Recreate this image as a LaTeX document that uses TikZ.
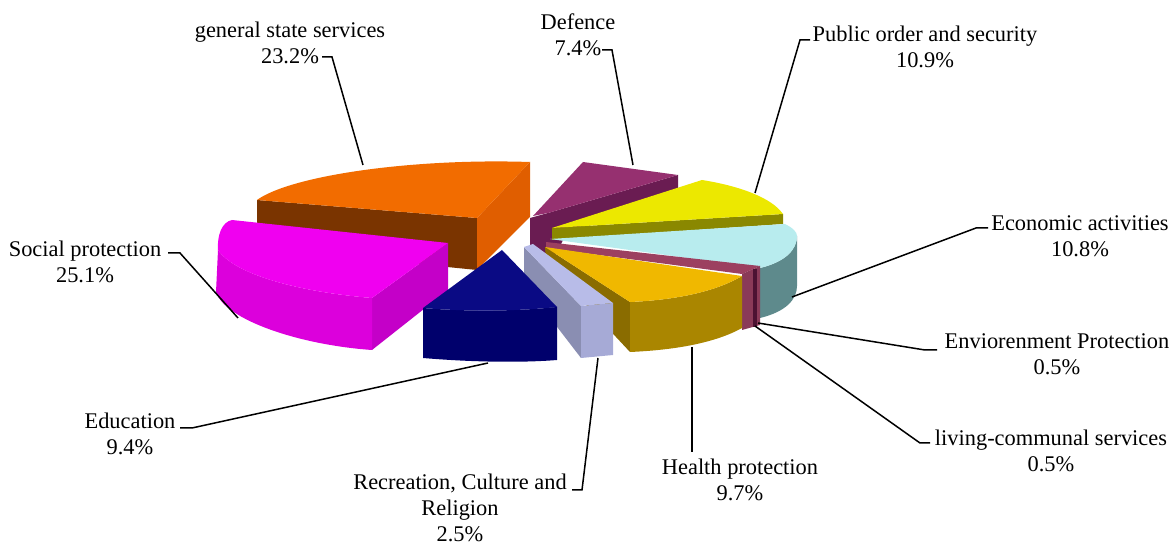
\documentclass[tikz,border=0pt]{standalone}
\usepackage{fontspec}
\setmainfont{Liberation Serif}
\usepackage{tikz}
\usetikzlibrary{positioning}

\definecolor{gssTop}{HTML}{F26C00}
\definecolor{gssSide}{HTML}{E05E00}
\definecolor{gssDark}{HTML}{7A3400}
\definecolor{socTop}{HTML}{F000F0}
\definecolor{socFront}{HTML}{DC00DC}
\definecolor{socSide}{HTML}{C400C8}
\definecolor{eduTop}{HTML}{0A0A84}
\definecolor{eduFront}{HTML}{00006C}
\definecolor{rcrTop}{HTML}{B8BCE8}
\definecolor{rcrFront}{HTML}{A6AAD6}
\definecolor{rcrSide}{HTML}{8A8EB2}
\definecolor{defTop}{HTML}{963070}
\definecolor{defSide}{HTML}{6A1C52}
\definecolor{posTop}{HTML}{ECE800}
\definecolor{posSide}{HTML}{8A8800}
\definecolor{ecoTop}{HTML}{B8ECEE}
\definecolor{ecoSide}{HTML}{5E8A8C}
\definecolor{envTop}{HTML}{9C4060}
\definecolor{envFront}{HTML}{8A3A58}
\definecolor{livFront}{HTML}{4C1232}
\definecolor{hpTop}{HTML}{F0B800}
\definecolor{hpFront}{HTML}{AA8600}
\definecolor{hpSide}{HTML}{8A6C00}

\begin{document}
\begin{tikzpicture}[x=0.5pt,y=-0.5pt]
\tikzset{lbl/.style={align=center,inner sep=0pt,font=\fontsize{11.2}{13}\selectfont},
  leader/.style={black,line width=0.75pt}}
\useasboundingbox (0,0) rectangle (1175,545);

% general state services
\fill[gssDark] (257,200) -- (477,218) -- (477,270) -- (257,248) -- cycle;
\fill[gssSide] (477,218) -- (530,162) -- (530,217) -- (477,270) -- cycle;
\fill[gssTop] (257,200) .. controls (290,176) and (410,158) .. (530,162) -- (477,218) -- cycle;
% social protection
\fill[socSide] (448,243) -- (372,298) -- (372,350) -- (448,290) -- cycle;
\fill[socFront] (372,298) .. controls (300,292) and (235,275) .. (218,250) -- (216,292)
  .. controls (225,320) and (300,345) .. (372,350) -- cycle;
\fill[socTop] (232,220) -- (448,243) -- (372,298) .. controls (300,292) and (235,275) .. (218,250)
  .. controls (217,235) and (222,222) .. (232,220) -- cycle;
% main pie
\fill[defSide] (530,218) -- (548,213) -- (678,175) -- (678,188) -- (565,236) -- (552,262) -- (530,253) -- cycle;
\fill[defTop] (583,162) -- (678,175) -- (548,213) -- (533,216) -- cycle;
\fill[posSide] (552,228) -- (783,214) -- (783,224) -- (552,240) -- cycle;
\fill[posTop] (552,228) -- (702,180) .. controls (740,186) and (772,198) .. (783,214) -- cycle;
\fill[ecoSide] (797,236) .. controls (797,250) and (785,262) .. (760,268) -- (760,318)
  .. controls (785,312) and (797,300) .. (797,286) -- cycle;
\fill[ecoTop] (550,239) -- (785,224) .. controls (793,228) and (797,232) .. (797,236)
  .. controls (797,250) and (785,262) .. (760,268) -- cycle;
\fill[envTop] (546,242) -- (760,266) -- (742,274) -- (546,248) -- cycle;
\fill[envFront] (742,274) -- (760,266) -- (760,325) -- (742,330) -- cycle;
\fill[livFront] (753,269) rectangle (757,327);
\fill[hpSide] (545,247) -- (630,302) -- (630,352) -- (546,262) -- cycle;
\fill[hpFront] (630,302) .. controls (675,300) and (715,292) .. (742,276) -- (742,328)
  .. controls (715,343) and (675,350) .. (630,352) -- cycle;
\fill[hpTop] (545,247) -- (742,276) .. controls (715,292) and (675,300) .. (630,302) -- cycle;
% recreation
\fill[rcrSide] (524,247) -- (581,306) -- (581,358) -- (524,284) -- cycle;
\fill[rcrFront] (581,306) -- (613,303) -- (613,355) -- (581,358) -- cycle;
\fill[rcrTop] (524,247) -- (533,244) -- (613,303) -- (581,306) -- cycle;
% education
\fill[eduFront] (423,308) .. controls (470,312) and (520,311) .. (557,307) -- (557,360)
  .. controls (520,363) and (470,362) .. (423,358) -- cycle;
\fill[eduTop] (502,250) -- (557,307) .. controls (520,311) and (470,312) .. (423,308) -- cycle;

% labels
\node[lbl] (gss) at (290,43) {general state services\\23.2\%};
\node[lbl] (def) at (578,35) {Defence\\7.4\%};
\node[lbl] (pos) at (925,47) {Public order and security\\10.9\%};
\node[lbl] (eco) at (1080,236) {Economic activities\\10.8\%};
\node[lbl] (env) at (1057,354) {Enviorenment Protection\\0.5\%};
\node[lbl] (liv) at (1051,451) {living-communal services\\0.5\%};
\node[lbl] (hp) at (740,480) {Health protection\\9.7\%};
\node[lbl] (rcr) at (460,508) {Recreation, Culture and\\Religion\\2.5\%};
\node[lbl] (edu) at (130,434) {Education\\9.4\%};
\node[lbl] (soc) at (85,262) {Social protection\\25.1\%};

% leader ends
\coordinate (gss-p) at (363,165); \coordinate (gss-k) at (332,57);
\coordinate (def-p) at (633,165); \coordinate (def-k) at (612,50);
\coordinate (pos-p) at (755,193); \coordinate (pos-k) at (800,40);
\coordinate (eco-p) at (792,297); \coordinate (eco-k) at (976,228);
\coordinate (env-p) at (758,323); \coordinate (env-k) at (925,350);
\coordinate (liv-p) at (755,326); \coordinate (liv-k) at (920,443);
\coordinate (hp-p) at (692,347); \coordinate (hp-k) at (692,452);
\coordinate (rcr-p) at (598,358); \coordinate (rcr-k) at (582,490);
\coordinate (edu-p) at (488,363); \coordinate (edu-k) at (192,428);
\coordinate (soc-p) at (238,318); \coordinate (soc-k) at (180,253);

\draw[leader] (gss-p) -- (gss-k) -- ++(-10,0);
\draw[leader] (def-p) -- (def-k) -- ++(-10,0);
\draw[leader] (pos-p) -- (pos-k) -- ++(10,0);
\draw[leader] (eco-p) -- (eco-k) -- ++(12,0);
\draw[leader] (env-p) -- (env-k) -- ++(12,0);
\draw[leader] (liv-p) -- (liv-k) -- ++(10,0);
\draw[leader] (hp-p) -- (hp-k);
\draw[leader] (rcr-p) -- (rcr-k) -- ++(-10,0);
\draw[leader] (edu-p) -- (edu-k) -- ++(-12,0);
\draw[leader] (soc-p) -- (soc-k) -- ++(-12,0);
\end{tikzpicture}
\end{document}
